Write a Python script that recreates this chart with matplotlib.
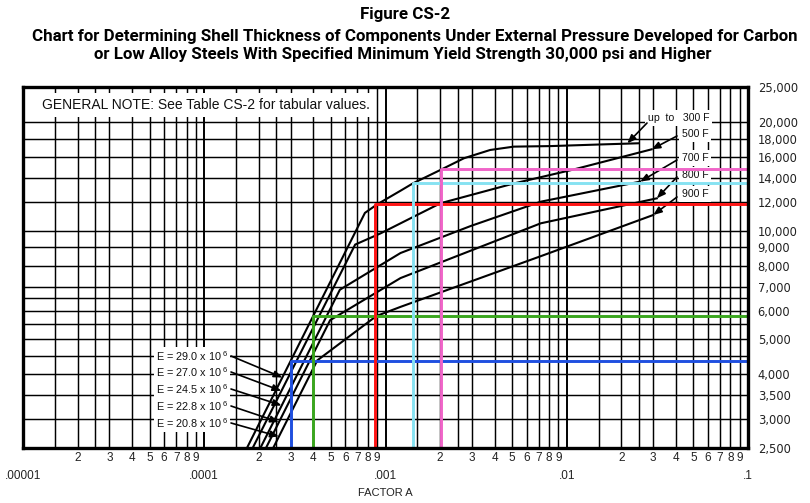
import matplotlib
matplotlib.use('Agg')
import matplotlib.pyplot as plt
from matplotlib.transforms import blended_transform_factory

# ---------------- data ----------------
curve_names = ['300', '500', '700', '800', '900']
A_300 = [1.72e-4, 7.7e-4, 9.0e-4, 1.21e-3, 1.42e-3, 2.01e-3, 2.71e-3, 3.78e-3, 5.1e-3, 8.16e-3, 1.54e-2, 2.49e-2]
B_300 = [2500, 11200, 11830, 12900, 13530, 14730, 15870, 16730, 17090, 17150, 17330, 17460]
A_500 = [1.85e-4, 6.8e-4, 9.4e-4, 1.43e-3, 2.01e-3, 5.1e-3, 1.09e-2, 2.94e-2]
B_500 = [2500, 9150, 9830, 10930, 11910, 13510, 14770, 16800]
A_700 = [2.04e-4, 5.6e-4, 1.21e-3, 2.95e-3, 7.19e-3, 2.54e-2]
B_700 = [2500, 6860, 8670, 10300, 12030, 13670]
A_800 = [2.19e-4, 4.95e-4, 1.21e-3, 7.19e-3, 3.14e-2]
B_800 = [2500, 5650, 7390, 10480, 12290]
A_900 = [2.40e-4, 4.2e-4, 8.9e-4, 1.21e-3, 7.2e-3, 3.0e-2]
B_900 = [2500, 4370, 5800, 6150, 8500, 11050]

temp_labels = ['up  to   300 F', '500 F', '700 F', '800 F', '900 F']
temp_tip_A = [2.16e-2, 2.94e-2, 2.54e-2, 3.14e-2, 3.0e-2]
temp_tip_B = [17455, 16800, 13670, 12290, 11050]

modulus_labels = ['E = 29.0 x 10', 'E = 27.0 x 10', 'E = 24.5 x 10', 'E = 22.8 x 10', 'E = 20.8 x 10']
modulus_tip_A = [2.70e-4, 2.66e-4, 2.67e-4, 2.58e-4, 2.58e-4]
modulus_tip_B = [3920, 3600, 3280, 2950, 2690]

guide_A = [3.0e-4, 4.0e-4, 8.8e-4, 1.42e-3, 2.03e-3]
guide_B = [4350, 5800, 11850, 13530, 14820]
guide_colors = ['#1f4fe0', '#3aa61e', '#ff1414', '#86e2f2', '#f064c8']

x_decades = [1e-5, 1e-4, 1e-3, 1e-2, 1e-1]
x_decade_labels = ['.00001', '.0001', '.001', '.01', '.1']
x_grid_mult = [1.5, 2, 2.5, 3, 4, 5, 6, 7, 8, 9]
x_label_mult = [2, 3, 4, 5, 6, 7, 8, 9]
y_grid = [3000, 3500, 4000, 4500, 5000, 5500, 6000, 6500, 7000, 8000, 9000,
          10000, 12000, 14000, 16000, 18000, 20000]
y_labels = [2500, 3000, 3500, 4000, 5000, 6000, 7000, 8000, 9000, 10000,
            12000, 14000, 16000, 18000, 20000, 25000]

# ---------------- figure ----------------
W, H = 810, 503
fig = plt.figure(figsize=(W / 100, H / 100), dpi=100)
L, R, T, Bt = 23, 748, 87, 448
ax = fig.add_axes([L / W, 1 - Bt / H, (R - L) / W, (Bt - T) / H])
ax.set_xscale('log')
ax.set_yscale('log')
ax.set_xlim(x_decades[0], x_decades[-1])
ax.set_ylim(y_labels[0], y_labels[-1])

def fx(px):
    return (px - L) / (R - L)

def fy(py):
    return (Bt - py) / (Bt - T)

# grid
for d in x_decades[:-1]:
    for m in x_grid_mult:
        ax.axvline(m * d, color='black', lw=1.05, zorder=1)
for d in x_decades[1:-1]:
    ax.axvline(d, color='black', lw=1.4, zorder=1)
for v in y_grid:
    ax.axhline(v, color='black', lw=1.05, zorder=1)

for s in ax.spines.values():
    s.set_linewidth(2.4)
    s.set_zorder(6)

ax.tick_params(which='both', length=0)
ax.xaxis.set_major_locator(plt.NullLocator())
ax.xaxis.set_minor_locator(plt.NullLocator())
ax.yaxis.tick_right()
ax.yaxis.set_minor_locator(plt.NullLocator())
ax.set_yticks(y_labels)
ax.set_yticklabels([f'{v:,}' for v in y_labels], fontsize=8.3, family='DejaVu Sans',
                   color='#222222')
ax.tick_params(axis='y', pad=7)

# bottom tick labels
trans = blended_transform_factory(ax.transData, ax.transAxes)
for d in x_decades[:-1]:
    for m in x_label_mult:
        ax.text(m * d, fy(458), str(m), transform=trans, ha='center', va='center',
                fontsize=8.5, family='Liberation Sans', color='#222222')
for d, lab in zip(x_decades, x_decade_labels):
    ax.text(d, fy(476), lab, transform=trans, ha='center', va='center',
            fontsize=8.5, family='Liberation Sans', color='#222222')
fig.text(385 / W, 1 - 493 / H, 'FACTOR A', ha='center', va='center',
         fontsize=8, family='Liberation Sans', color='#222222')

# curves
for A, Bv in [(A_300, B_300), (A_500, B_500), (A_700, B_700), (A_800, B_800), (A_900, B_900)]:
    ax.plot(A, Bv, color='black', lw=1.5, zorder=4, solid_joinstyle='round')

# guide lines
for a, b, c in zip(guide_A, guide_B, guide_colors):
    ax.plot([a, a, x_decades[-1]], [y_labels[0], b, b], color=c, lw=2.1, zorder=5,
            clip_on=True)

# note
ax.text(fx(42), fy(105), 'GENERAL NOTE: See Table CS-2 for tabular values.',
        transform=ax.transAxes, ha='left', va='center', fontsize=10,
        family='Liberation Sans', color='#111111', zorder=3,
        bbox=dict(boxstyle='square,pad=0.35', fc='white', ec='none'))

# modulus labels
mod_y = [356, 372, 389, 406, 423]
for lab, a, b, py in zip(modulus_labels, modulus_tip_A, modulus_tip_B, mod_y):
    ax.text(fx(156), fy(py), lab + r'$^{\mathregular{\ 6}}$', transform=ax.transAxes,
            ha='left', va='center', fontsize=7.8, family='Liberation Sans',
            color='#111111', zorder=3,
            bbox=dict(boxstyle='square,pad=0.15', fc='white', ec='none'))
    ax.annotate('', xy=(a, b), xycoords='data', xytext=(fx(231), fy(py)),
                textcoords='axes fraction', zorder=4,
                arrowprops=dict(arrowstyle='-|>,head_length=0.5,head_width=0.2',
                                color='black', lw=1.2, shrinkA=0, shrinkB=0))

# temperature labels
temp_text_x = [648, 682, 682, 682, 682]
temp_text_y = [118, 134, 158, 175, 194]
temp_tail = [(647, 123), (677, 136), (677, 160), (677, 177), (677, 197)]
for lab, a, b, tx, ty, (px, py) in zip(temp_labels, temp_tip_A, temp_tip_B,
                                        temp_text_x, temp_text_y, temp_tail):
    ax.text(fx(tx), fy(ty), lab, transform=ax.transAxes, ha='left', va='center',
            fontsize=7.6, family='Liberation Sans', color='#111111', zorder=3,
            bbox=dict(boxstyle='square,pad=0.25', fc='white', ec='none'))
    ax.annotate('', xy=(a, b), xycoords='data', xytext=(fx(px), fy(py)),
                textcoords='axes fraction', zorder=4,
                arrowprops=dict(arrowstyle='-|>,head_length=0.5,head_width=0.2',
                                color='black', lw=1.2, shrinkA=0, shrinkB=0))

# titles
title_kw = dict(ha='center', va='center', fontsize=12.2, fontweight='bold', family='Roboto',
                color='black')
fig.text(405 / W, 1 - 15 / H, 'Figure CS-2', **title_kw)
fig.text(415 / W, 1 - 36 / H, 'Chart for Determining Shell Thickness of Components Under '
         'External Pressure Developed for Carbon', **title_kw)
fig.text(403 / W, 1 - 55 / H, 'or Low Alloy Steels With Specified Minimum Yield Strength '
         '30,000 psi and Higher', **title_kw)

fig.savefig('out.png', dpi=100)
